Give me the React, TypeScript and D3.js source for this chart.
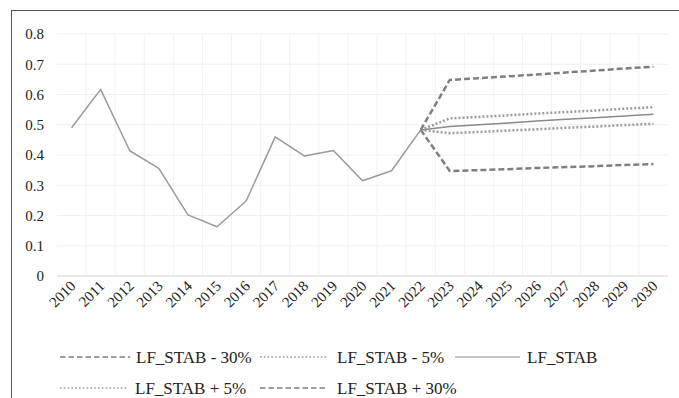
import React from "react";
import * as d3 from "d3";

// Observed load factor, 2010–2022
const years = d3.range(2010, 2031).map(String);
const histYears = years.slice(0, 13);
const histValues = [0.49, 0.617, 0.414, 0.356, 0.202, 0.163, 0.248, 0.46, 0.397, 0.415, 0.315, 0.348, 0.483];

// Scenario projections, 2022–2030 (start at last observed value)
const projYears = years.slice(12);
const minus30 = [0.483, 0.347, 0.35, 0.353, 0.357, 0.36, 0.363, 0.367, 0.37];
const minus5 = [0.483, 0.472, 0.476, 0.481, 0.485, 0.49, 0.494, 0.499, 0.503];
const stab = [0.483, 0.494, 0.5, 0.506, 0.512, 0.518, 0.523, 0.529, 0.535];
const plus5 = [0.483, 0.521, 0.526, 0.531, 0.537, 0.542, 0.547, 0.553, 0.558];
const plus30 = [0.483, 0.648, 0.654, 0.66, 0.666, 0.673, 0.679, 0.686, 0.692];

const yTicks = [0, 0.1, 0.2, 0.3, 0.4, 0.5, 0.6, 0.7, 0.8];

const W = 679;
const H = 398;
const FONT = "Liberation Serif";

type Style = { stroke: string; width: number; dash?: string; legendDash?: string };
const dashed: Style = { stroke: "#7f7f7f", width: 2.5, dash: "6,3", legendDash: "5.5,3" };
const dotted: Style = { stroke: "#9a9a9a", width: 2.5, dash: "2,2", legendDash: "1.6,2.2" };
const solid: Style = { stroke: "#8a8a8a", width: 1.5 };

const scenarios = [
  { name: "LF_STAB - 30%", values: minus30, style: dashed, lx: [60, 130], tx: 136, row: 0 },
  { name: "LF_STAB - 5%", values: minus5, style: dotted, lx: [260, 327], tx: 337, row: 0 },
  { name: "LF_STAB", values: stab, style: solid, lx: [455, 520], tx: 527, row: 0 },
  { name: "LF_STAB + 5%", values: plus5, style: dotted, lx: [60, 127], tx: 135, row: 1 },
  { name: "LF_STAB + 30%", values: plus30, style: dashed, lx: [260, 328], tx: 337, row: 1 },
];

export default function App() {
  const x = d3.scaleBand<string>().domain(years).range([57, 668]);
  const y = d3.scaleLinear().domain([0, 0.8]).range([276, 34]);
  const cx = (d: string) => (x(d) ?? 0) + x.bandwidth() / 2;

  const line = d3
    .line<[string, number]>()
    .x((d) => cx(d[0]))
    .y((d) => y(d[1]));

  const histPath = line(histYears.map((yr, i) => [yr, histValues[i]]));
  const rowY = [357, 388];
  const txt = { fontFamily: FONT, fontSize: 15, fill: "#222" } as const;
  const legTxt = { fontFamily: FONT, fontSize: 17, fill: "#222" } as const;

  return (
    <svg
      width={W}
      height={H}
      style={{ position: "absolute", left: 0, top: 0, background: "#fff", fontFamily: FONT }}
    >
      <rect x={0} y={0} width={W} height={H} fill="#fff" />
      {/* chart frame (extends beyond the view at right and bottom) */}
      <rect x={11.5} y={10.5} width={720} height={420} fill="none" stroke="#555" strokeWidth={1} />

      {/* horizontal gridlines */}
      {yTicks.map((t) => (
        <line
          key={"h" + t}
          x1={57}
          x2={668}
          y1={y(t)}
          y2={y(t)}
          stroke={t === 0 ? "#d4d4d4" : "#efefef"}
          strokeWidth={1}
        />
      ))}
      {/* vertical gridlines at category boundaries */}
      {years.slice(1).map((yr) => (
        <line key={"v" + yr} x1={x(yr)} x2={x(yr)} y1={34} y2={276} stroke="#f2f2f2" strokeWidth={1} />
      ))}

      {/* y tick labels */}
      {yTicks.map((t) => (
        <text key={"yl" + t} x={44} y={y(t)} dy="0.35em" textAnchor="end" style={txt}>
          {d3.format("")(Math.round(t * 10) / 10)}
        </text>
      ))}

      {/* x tick labels */}
      {years.map((yr) => (
        <text
          key={"xl" + yr}
          transform={`translate(${cx(yr) + 5},${287}) rotate(-45)`}
          textAnchor="end"
          style={txt}
        >
          {yr}
        </text>
      ))}

      {/* observed series */}
      <path d={histPath ?? ""} fill="none" stroke="#9a9a9a" strokeWidth={1.5} strokeLinejoin="round" />

      {/* scenario series */}
      {scenarios.map((s) => (
        <path
          key={s.name}
          d={line(projYears.map((yr, i) => [yr, s.values[i]])) ?? ""}
          fill="none"
          stroke={s.style.stroke}
          strokeWidth={s.style.width}
          strokeDasharray={s.style.dash}
        />
      ))}

      {/* legend */}
      {scenarios.map((s) => (
        <g key={"lg" + s.name}>
          <line
            x1={s.lx[0]}
            x2={s.lx[1]}
            y1={rowY[s.row]}
            y2={rowY[s.row]}
            stroke={s.style.stroke}
            strokeWidth={s.style === solid ? 1 : 1.5}
            strokeDasharray={s.style.legendDash}
          />
          <text x={s.tx} y={rowY[s.row]} dy="0.35em" style={legTxt}>
            {s.name}
          </text>
        </g>
      ))}
    </svg>
  );
}
